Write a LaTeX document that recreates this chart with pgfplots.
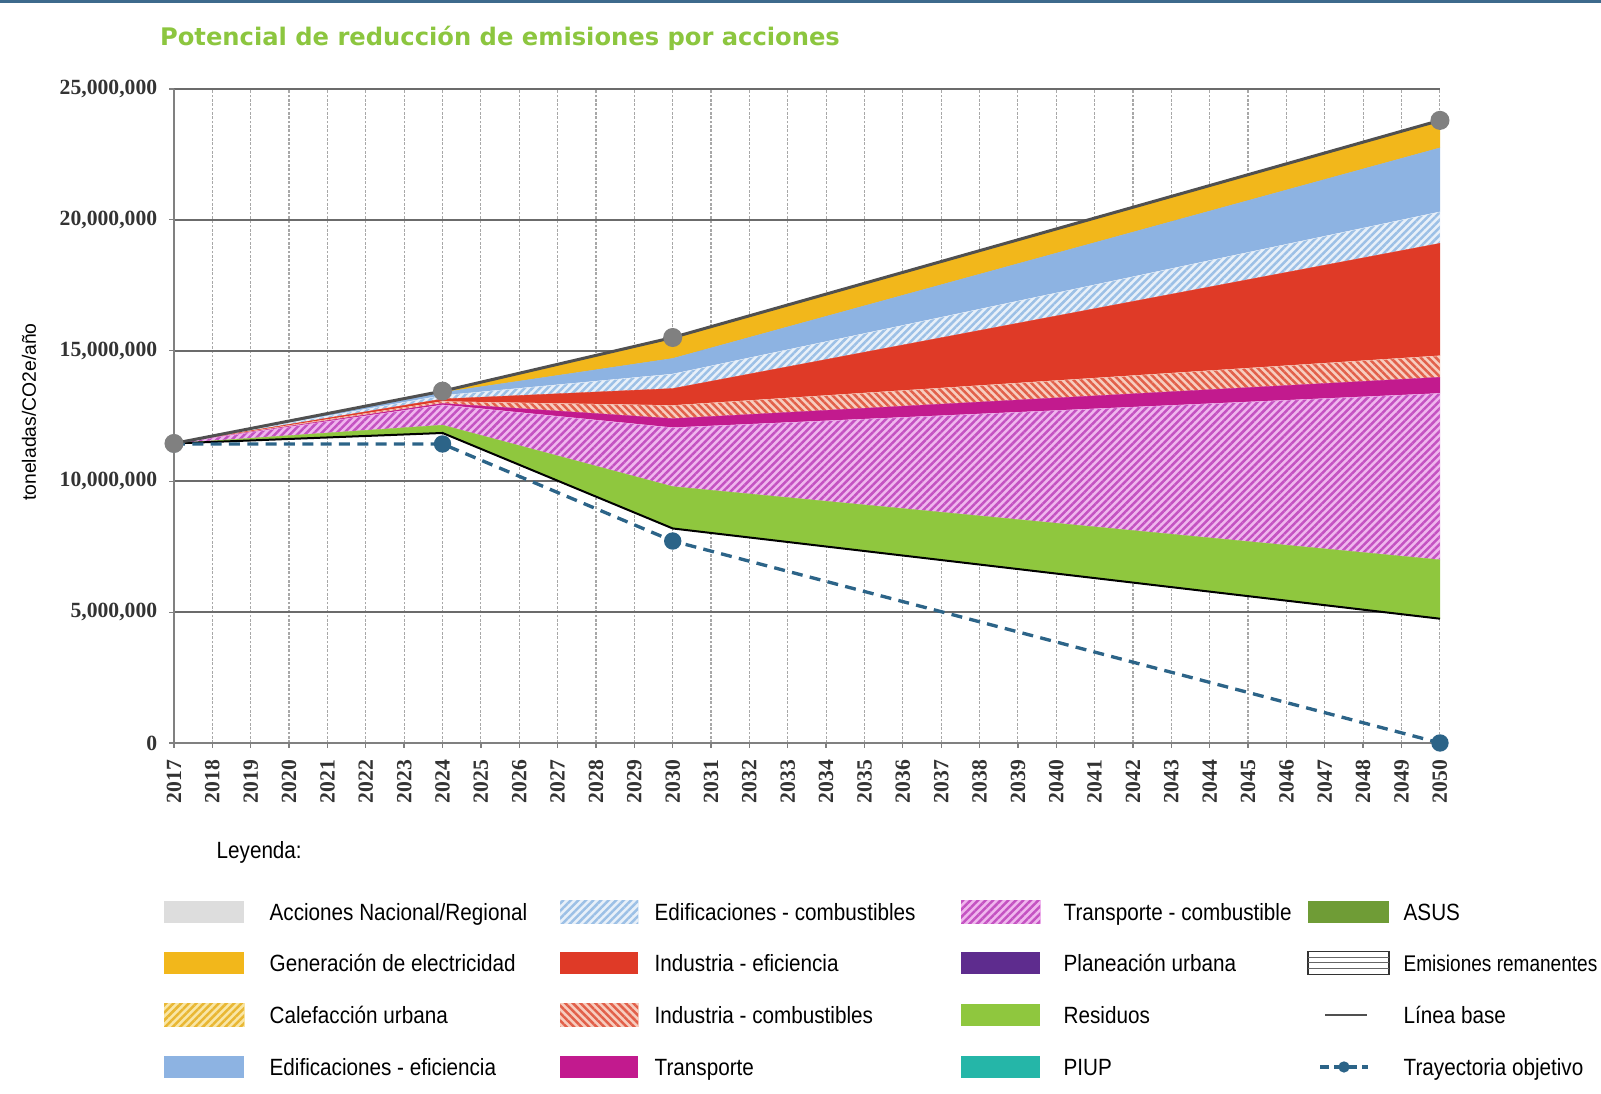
\documentclass[border=0pt]{standalone}
\usepackage{fontspec}
\setmainfont{Liberation Sans}
\usepackage{pgfplots}
\pgfplotsset{compat=1.18}
\usetikzlibrary{patterns.meta}
\newfontfamily\legfont{Liberation Sans}[FakeStretch=0.88]
\newfontfamily\legfontn{Liberation Sans}[FakeStretch=0.84]
\newfontfamily\tickfam{Liberation Serif}
\newfontfamily\titlefam{DejaVu Sans}
\definecolor{cYellow}{HTML}{F2B71B}
\definecolor{cBlue}{HTML}{8DB3E2}
\definecolor{cLBbg}{HTML}{E8F0F9}
\definecolor{cLBline}{HTML}{9CC0E6}
\definecolor{cRed}{HTML}{DF3A27}
\definecolor{cRHbg}{HTML}{F7CDBF}
\definecolor{cRHline}{HTML}{E2604A}
\definecolor{cMag}{HTML}{C21A8E}
\definecolor{cPHbg}{HTML}{F0B6EE}
\definecolor{cPHline}{HTML}{C452C2}
\definecolor{cGreen}{HTML}{8FC73E}
\definecolor{cASUS}{HTML}{6F9C36}
\definecolor{cPlan}{HTML}{5E2C8E}
\definecolor{cPIUP}{HTML}{25B6A8}
\definecolor{cGrayL}{HTML}{DDDDDD}
\definecolor{cCalbg}{HTML}{F9E6A6}
\definecolor{cCalline}{HTML}{E9B733}
\definecolor{cBase}{HTML}{505050}
\definecolor{cMarkG}{HTML}{808080}
\definecolor{cTarget}{HTML}{2C6488}
\definecolor{cTitle}{HTML}{8CC63F}
\definecolor{cBar}{HTML}{3D6A8C}
\definecolor{cGridH}{HTML}{6B6B6B}
\definecolor{cGridV}{HTML}{A8A8A8}
\tikzset{
  solidarea/.style={fill=#1, draw=#1, line width=0.1pt},
  hatchNE/.style 2 args={fill=#1, draw=#1, line width=0.1pt,
     postaction={pattern={Lines[angle=45,distance=1.6pt,line width=0.75pt]}, pattern color=#2}},
  hatchNW/.style 2 args={fill=#1, draw=#1, line width=0.1pt,
     postaction={pattern={Lines[angle=-45,distance=1.6pt,line width=0.75pt]}, pattern color=#2}},
}
\newcommand{\legtxt}{\legfont\fontsize{7.05}{8}\selectfont}
\begin{document}
\begin{tikzpicture}[x=1pt,y=1pt]
\useasboundingbox (0,0) rectangle (480.3,328.2);
\fill[cBar] (0,327.2) rectangle (480.3,328.2);
\begin{axis}[
  at={(52.2pt,105.3pt)}, anchor=south west,
  width=379.8pt, height=196.2pt, scale only axis,
  xmin=2017, xmax=2050, ymin=0, ymax=25,
  clip=false,
  axis x line*=bottom, axis y line*=left,
  axis line style={-, draw=cMarkG, line width=0.5pt},
  xtick={2017,...,2050},
  ytick={0,5,10,15,20,25},
  yticklabels={0,{5,000,000},{10,000,000},{15,000,000},{20,000,000},{25,000,000}},
  /pgf/number format/1000 sep={},
  /pgf/number format/assume math mode=true,
  ticklabel style={font=\tickfam\bfseries\fontsize{6.5}{7}\selectfont, text=black!80},
  xticklabel style={rotate=90, anchor=east},
  tick align=outside,
  major tick length=1.5pt,
  tick style={draw=cMarkG, line width=0.4pt},
  grid=major,
  x grid style={draw=cGridV, line width=0.35pt, dash pattern=on 0.8pt off 0.5pt},
  y grid style={draw=cGridH, line width=0.6pt},
]
% Generacion de electricidad
\addplot[solidarea=cYellow] coordinates {(2017,11.45) (2024,13.45) (2030,15.50) (2050,23.80) (2050,22.75) (2030,14.70) (2024,13.40) (2017,11.45)};
% Edificaciones - eficiencia
\addplot[solidarea=cBlue] coordinates {(2017,11.45) (2024,13.40) (2030,14.70) (2050,22.75) (2050,20.30) (2030,14.10) (2024,13.28) (2017,11.45)};
% Edificaciones - combustibles
\addplot[hatchNE={cLBbg}{cLBline}] coordinates {(2017,11.45) (2024,13.28) (2030,14.10) (2050,20.30) (2050,19.10) (2030,13.55) (2024,13.15) (2017,11.45)};
% Industria - eficiencia
\addplot[solidarea=cRed] coordinates {(2017,11.45) (2024,13.15) (2030,13.55) (2050,19.10) (2050,14.80) (2030,12.90) (2024,13.05) (2017,11.45)};
% Industria - combustibles
\addplot[hatchNW={cRHbg}{cRHline}] coordinates {(2017,11.45) (2024,13.05) (2030,12.90) (2050,14.80) (2050,13.98) (2030,12.40) (2024,12.98) (2017,11.45)};
% Transporte
\addplot[solidarea=cMag] coordinates {(2017,11.45) (2024,12.98) (2030,12.40) (2050,13.98) (2050,13.36) (2030,12.05) (2024,12.92) (2017,11.45)};
% Transporte - combustible
\addplot[hatchNE={cPHbg}{cPHline}] coordinates {(2017,11.45) (2024,12.92) (2030,12.05) (2050,13.36) (2050,7.00) (2030,9.80) (2024,12.15) (2017,11.45)};
% Residuos
\addplot[solidarea=cGreen] coordinates {(2017,11.45) (2024,12.15) (2030,9.80) (2050,7.00) (2050,4.75) (2030,8.20) (2024,11.85) (2017,11.45)};
% Emisiones remanentes (top line)
\addplot[black, line width=0.6pt] coordinates {(2017,11.45) (2024,11.85) (2030,8.20) (2050,4.75)};
% Trayectoria objetivo
\addplot[cTarget, line width=1pt, dash pattern=on 3.3pt off 2.2pt, mark=*, mark size=2.1pt,
  mark options={solid, fill=cTarget, draw=cTarget}] coordinates {(2017,11.43) (2024,11.43) (2030,7.72) (2050,0)};
% Linea base
\addplot[cBase, line width=0.9pt, mark=*, mark size=2.4pt,
  mark options={fill=cMarkG, draw=cMarkG}] coordinates {(2017,11.45) (2024,13.45) (2030,15.50) (2050,23.80)};
\end{axis}
% title
\node[font=\titlefam\bfseries\fontsize{7.26}{8}\selectfont, text=cTitle] at (150,316.8) {Potencial de reducción de emisiones por acciones};
% y label
\node[rotate=90, font=\fontsize{5.8}{6}\selectfont] at (8.7,204.6) {toneladas/CO2e/año};
% legend
\node[anchor=base west, inner sep=0, font=\legtxt] at (64.8,70.6) {Leyenda:};
% column 1
\fill[cGrayL] (49.2,51.2) rectangle (73.2,58.0);
\node[anchor=base west, inner sep=0, font=\legtxt] at (80.7,51.9) {Acciones Nacional/Regional};
\fill[cYellow] (49.2,35.9) rectangle (73.2,42.7);
\node[anchor=base west, inner sep=0, font=\legtxt] at (80.7,36.6) {Generación de electricidad};
\path[hatchNE={cCalbg}{cCalline}] (49.2,20.3) rectangle (73.2,27.1);
\node[anchor=base west, inner sep=0, font=\legtxt] at (80.7,21.0) {Calefacción urbana};
\fill[cBlue] (49.2,4.7) rectangle (73.2,11.5);
\node[anchor=base west, inner sep=0, font=\legtxt] at (80.7,5.4) {Edificaciones - eficiencia};
% column 2
\path[hatchNE={cLBbg}{cLBline}] (168,51.2) rectangle (191.4,58.0);
\node[anchor=base west, inner sep=0, font=\legtxt] at (196.2,51.9) {Edificaciones - combustibles};
\fill[cRed] (168,35.9) rectangle (191.4,42.7);
\node[anchor=base west, inner sep=0, font=\legtxt] at (196.2,36.6) {Industria - eficiencia};
\path[hatchNW={cRHbg}{cRHline}] (168,20.3) rectangle (191.4,27.1);
\node[anchor=base west, inner sep=0, font=\legtxt] at (196.2,21.0) {Industria - combustibles};
\fill[cMag] (168,4.7) rectangle (191.4,11.5);
\node[anchor=base west, inner sep=0, font=\legtxt] at (196.2,5.4) {Transporte};
% column 3
\path[hatchNE={cPHbg}{cPHline}] (288.3,51.2) rectangle (312,58.0);
\node[anchor=base west, inner sep=0, font=\legtxt] at (318.9,51.9) {Transporte - combustible};
\fill[cPlan] (288.3,35.9) rectangle (312,42.7);
\node[anchor=base west, inner sep=0, font=\legtxt] at (318.9,36.6) {Planeación urbana};
\fill[cGreen] (288.3,20.3) rectangle (312,27.1);
\node[anchor=base west, inner sep=0, font=\legtxt] at (318.9,21.0) {Residuos};
\fill[cPIUP] (288.3,4.7) rectangle (312,11.5);
\node[anchor=base west, inner sep=0, font=\legtxt] at (318.9,5.4) {PIUP};
% column 4
\fill[cASUS] (392.4,51.2) rectangle (416.7,58.0);
\node[anchor=base west, inner sep=0, font=\legtxt] at (420.9,51.9) {ASUS};
\draw[black!80, line width=0.4pt] (392.4,35.9) rectangle (416.7,42.7);
\draw[black!60, line width=0.3pt] (392.4,37.6) -- (416.7,37.6) (392.4,39.3) -- (416.7,39.3) (392.4,41.0) -- (416.7,41.0);
\node[anchor=base west, inner sep=0, font=\legfontn\fontsize{6.8}{8}\selectfont] at (420.9,36.6) {Emisiones remanentes};
\draw[cBase, line width=0.6pt] (397.5,23.7) -- (410.2,23.7);
\node[anchor=base west, inner sep=0, font=\legtxt] at (420.9,21.0) {Línea base};
\draw[cTarget, line width=1pt, dash pattern=on 2.6pt off 1.6pt] (396,8.1) -- (410.4,8.1);
\fill[cTarget] (403.2,8.1) circle (1.7pt);
\node[anchor=base west, inner sep=0, font=\legtxt] at (420.9,5.4) {Trayectoria objetivo};
\end{tikzpicture}
\end{document}
